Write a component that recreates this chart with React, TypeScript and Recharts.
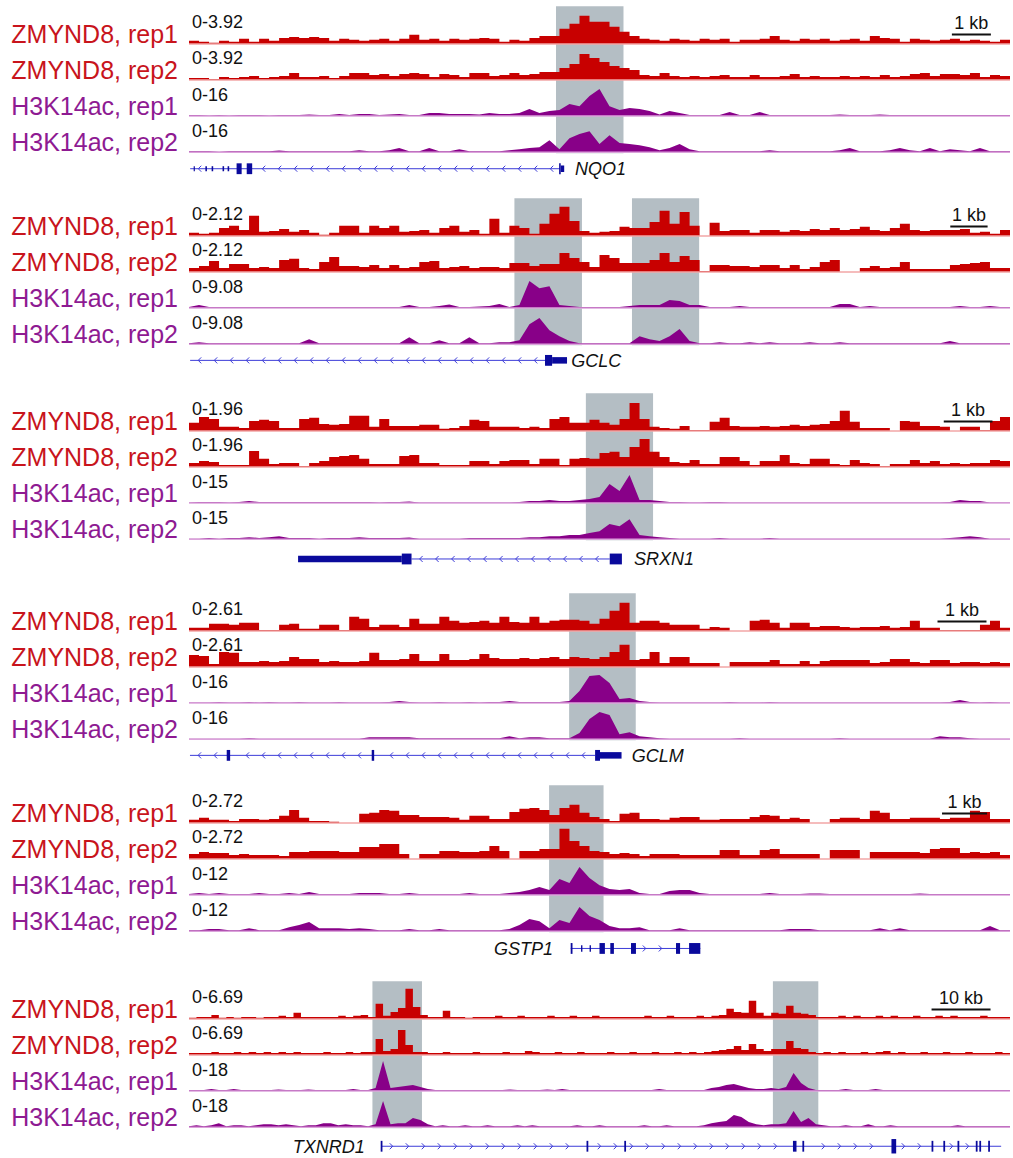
import React from 'react';
import { ComposedChart, Area, XAxis, YAxis, ReferenceArea, ReferenceLine, Scatter } from 'recharts';

const FONT = '"Liberation Sans", Arial, Helvetica, sans-serif';
const RED = '#c80000';
const PURPLE = '#880088';
const RED_BASE = '#f2a6a6';
const PURPLE_BASE = '#dba3db';
const LABEL_RED = '#c8141c';
const LABEL_PURPLE = '#8e1a92';
const HIGHLIGHT = '#b4bec4';
const EXON = '#0a0a9c';
const INTRON = '#3c3cd8';

const trackNames = ['ZMYND8, rep1', 'ZMYND8, rep2', 'H3K14ac, rep1', 'H3K14ac, rep2'];

// ---------------- NQO1 ----------------
const nqo1Span = 21.05; // kb
const nqo1Ranges = [3.92, 3.92, 16, 16];
const nqo1Zmynd8Rep1 = [
  0.33,0.22,0.11,0.33,0.22,0.55,0.22,0.55,0.33,0.65,
  0.76,0.65,0.76,0.65,0.33,0.55,0.44,0.33,0.44,0.55,
  0.33,0.55,0.98,0.44,0.55,0.33,0.55,0.44,0.55,0.65,
  0.55,0.22,0.44,0.33,0.65,0.87,0.87,1.64,2.18,3.05,
  2.4,2.4,1.85,1.31,0.87,0.55,0.44,0.33,0.55,0.44,
  0.33,0.55,0.44,0.55,0.22,0.44,0.44,0.55,0.87,0.44,
  0.33,0.55,0.44,0.55,0.33,0.44,0.55,0.33,0.87,0.65,
  0.55,0.22,0.55,0.44,0.33,0.44,0.55,0.33,0.44,0.33,
  0.22,0.44];
const nqo1Zmynd8Rep2 = [
  0.22,0.22,0.11,0.33,0.22,0.33,0.44,0.22,0.33,0.44,
  0.76,0.33,0.33,0.44,0.22,0.44,0.76,0.76,0.55,0.65,
  0.44,0.65,0.76,0.65,0.33,0.65,0.55,0.33,0.76,0.76,
  0.44,0.55,0.76,0.55,0.65,0.87,0.87,1.31,1.74,2.83,
  2.4,1.96,1.53,1.31,1.09,0.55,0.44,0.76,0.44,0.33,
  0.44,0.33,0.44,0.55,0.33,0.33,0.55,0.33,0.33,0.44,
  0.65,0.33,0.44,0.33,0.33,0.44,0.33,0.44,0.33,0.55,
  0.33,0.44,0.65,0.76,0.44,0.65,0.65,0.55,0.76,0.33,
  0.55,0.44];
const nqo1H3k14acRep1 = [
  0.44,0.44,0.22,0.44,0.22,0.44,0.44,0.44,0.22,0.44,
  0.44,0.44,0.67,0.44,0.44,0.89,0.44,0.89,0.89,0.44,
  0.67,0.89,0.44,0.44,1.33,1.33,0.89,0.89,0.89,0.67,
  1.33,0.89,0.89,1.33,3.1,1.33,2.2,2.7,5.3,4.4,
  8.9,12,4.4,2.7,3.6,3.1,2.2,0.67,2.2,1.33,
  0.44,0.44,0.44,0.44,1.78,0.44,0.44,1.78,0.44,0.44,
  0.44,0.44,0.44,0.44,0.44,0.67,0.44,0.44,0.44,0.67,
  0.44,0.44,0.44,0.44,0.44,0.44,0.44,0.44,0.44,0.44,
  0.44,0.44];
const nqo1H3k14acRep2 = [
  0.44,0.44,0.44,0.22,0.44,0.44,0.44,0.44,0.44,0.67,
  0.44,0.44,0.44,0.44,0.44,0.44,0.44,0.89,0.44,0.44,
  0.89,1.78,0.44,0.44,1.78,0.44,0.44,1.33,0.44,0.44,
  0.44,0.44,0.89,1.33,1.78,2.2,5.3,1.33,6.2,8,
  9.3,3.6,7.5,4,3.6,3.1,2.2,0.89,1.78,3.6,
  1.33,0.44,0.44,0.44,0.44,0.44,0.44,0.44,0.89,0.44,
  0.44,0.44,0.44,0.44,0.44,0.89,1.78,0.44,0.44,0.44,
  0.89,1.78,0.89,0.44,1.78,0.44,1.33,0.89,0.44,1.78,
  0.44,0.44];
const nqo1Highlights = [[9.41, 11.14]];
const nqo1ScaleBar = [19.56, 20.56];
const nqo1ScaleLabel = '1 kb';
const nqo1Gene = { name: 'NQO1', start: 0.03, end: 9.51, strand: -1, labelX: 9.9, anchor: 'start' };
const nqo1Exons = [
  [0.12, 0.15, 's'], [0.42, 0.46, 's'], [0.58, 0.62, 's'], [0.86, 0.9, 's'], [0.99, 1.03, 's'],
  [1.22, 1.35, 't'], [1.48, 1.62, 't'], [9.49, 9.53, 't'], [9.53, 9.62, 'm'],
];

// ---------------- GCLC ----------------
const gclcSpan = 22.0;
const gclcRanges = [2.12, 2.12, 9.08, 9.08];
const gclcZmynd8Rep1 = [
  0.18,0.12,0.18,0.47,0.59,0.35,1.18,0.24,0.29,0.41,
  0.24,0.35,0.18,0.06,0.18,0.59,0.59,0.18,0.59,0.47,
  0.59,0.24,0.29,0.35,0.18,0.47,0.59,0.24,0.35,0.12,
  1.0,0.18,0.59,0.47,0.12,0.71,1.3,1.71,0.88,0.29,
  0.18,0.24,0.29,0.53,0.47,0.47,0.82,1.47,0.71,1.41,
  0.59,0,0.77,0.29,0.35,0.35,0.18,0.35,0.35,0.24,
  0.35,0.29,0.41,0.35,0.47,0.35,0.41,0.53,0.35,0.29,
  0.47,0.71,0.35,0.29,0.35,0.35,0.35,0.41,0.18,0.24,
  0.12,0.35];
const gclcZmynd8Rep2 = [
  0.24,0.35,0.65,0.24,0.47,0.47,0.24,0.29,0.24,0.71,
  0.77,0.24,0.18,0.59,0.88,0.35,0.35,0.29,0.41,0.24,
  0.41,0.24,0.29,0.59,0.65,0.24,0.29,0.35,0.24,0.29,
  0.29,0.24,0.53,0.53,0.35,0.47,0.47,1.12,0.82,0.59,
  0.29,1.0,0.82,0.53,0.53,0.53,0.71,1.12,0.59,0.94,
  0.71,0.06,0.41,0.41,0.35,0.35,0.29,0.41,0.41,0.24,
  0.41,0.18,0.29,0.59,0.71,0,0,0.24,0.35,0.24,
  0.29,0.59,0.18,0.18,0.18,0.18,0.41,0.47,0.53,0.59,
  0.24,0.24];
const gclcH3k14acRep1 = [
  0.25,0.76,0.25,0.25,0.25,0.25,0.25,0.25,0.25,0.25,
  0.25,0.25,0.25,0.25,0.25,0.25,0.25,0.25,0.25,0.25,
  0.25,0.25,0.76,0.25,0.25,0.5,0.88,0.25,0.25,0.38,
  0.5,1.0,0.25,0.76,6.8,5.0,5.5,0.76,0.5,0.25,
  0.25,0.25,0.25,0.25,0.5,0.76,0.76,0.76,2.0,1.76,
  0.76,0.76,0.25,0.25,0.25,0.5,0.25,0.25,0.25,0.25,
  0.25,0.25,0.25,0.25,0.25,1.0,1.0,0.25,0.5,0.25,
  0.25,0.25,0.25,0.25,0.25,0.25,0.25,0.5,0.25,0.25,
  0.5,0.25];
const gclcH3k14acRep2 = [
  0.25,0.5,0.25,0.25,0.25,0.25,0.25,0.25,0.25,0.25,
  0.25,0.25,1.26,0.25,0.25,0.25,0.25,0.25,0.25,0.25,
  0.25,0.25,1.76,0.25,0.25,1.0,0.25,0.25,1.76,0.25,
  0.25,0.5,0.5,1.0,5.0,6.6,3.5,2.0,0.76,0.25,
  0.25,0.25,0.25,0.25,0.25,2.0,1.26,0.76,2.0,3.8,
  0.76,0.25,0.25,0.5,0.25,0.25,0.5,0.25,0.5,0.25,
  0.25,0.25,0.5,0.25,0.25,0.5,0.25,0.25,0.25,0.25,
  0.25,0.25,0.25,0.25,0.25,0.25,0.76,0.25,0.25,0.25,
  0.25,0.25];
const gclcHighlights = [[8.72, 10.53], [11.87, 13.67]];
const gclcScaleBar = [20.4, 21.4];
const gclcScaleLabel = '1 kb';
const gclcGene = { name: 'GCLC', start: 0.03, end: 9.54, strand: -1, labelX: 10.24, anchor: 'start' };
const gclcExons = [[9.54, 9.73, 't'], [9.73, 10.13, 'm']];

// ---------------- SRXN1 ----------------
const srxn1Span = 16.86;
const srxn1Ranges = [1.96, 1.96, 15, 15];
const srxn1Zmynd8Rep1 = [
  0.44,0.76,0.65,0.22,0.22,0.16,0.54,0.6,0.54,0.16,
  0.16,0.65,0.71,0.38,0.33,0.38,0.82,0.82,0.22,0.65,
  0.27,0.27,0.27,0.33,0.33,0.11,0.16,0.27,0.6,0.54,
  0.22,0.22,0.22,0.16,0.22,0.16,0.65,0.76,0.44,0.44,
  0.6,0.44,0.33,0.65,1.52,0.65,0.22,0.16,0.11,0.27,
  0.05,0.05,0.49,0.71,0.27,0.22,0.22,0.27,0.22,0.27,
  0.33,0.27,0.33,0.38,0.54,1.09,0.49,0.16,0.16,0.16,
  0,0.54,0.49,0.27,0.27,0.22,0,0.22,0.22,0.05,
  0.54,0.76];
const srxn1Zmynd8Rep2 = [
  0.22,0.33,0.27,0.11,0.11,0.11,0.87,0.44,0.16,0.22,
  0.22,0.05,0.22,0.33,0.54,0.6,0.65,0.44,0.16,0.16,
  0.16,0.6,0.65,0.22,0.22,0.11,0.11,0.11,0.33,0.33,
  0.16,0.33,0.38,0.38,0.16,0.44,0.44,0.11,0.44,0.49,
  0.44,0.76,0.82,0.54,1.09,1.52,0.82,0.54,0.27,0.22,
  0.38,0.16,0.16,0.54,0.54,0.33,0.11,0.33,0.33,0.65,
  0.22,0.16,0.44,0.44,0.16,0.11,0.38,0.22,0.16,0.05,
  0.16,0.16,0.38,0.22,0.33,0.16,0.22,0.16,0.22,0.22,
  0.38,0.33];
const srxn1H3k14acRep1 = [
  0.21,0.42,0.42,0.42,0.21,0.42,0.83,0.42,0.42,0.42,
  0.42,0.42,0.42,0.42,0.42,0.42,0.42,0.42,0.42,0.21,
  0.42,0.42,0.63,0.21,0.21,0.21,0.21,0.21,0.21,0.21,
  0.21,0.21,0.21,0.42,0.83,0.83,1.25,0.83,0.83,1.25,
  1.67,2.5,7.9,5.0,11.7,1.25,1.25,0.83,0.42,0.42,
  0.21,0.21,0.42,0.42,0.21,0.21,0.21,0.21,0.21,0.21,
  0.21,0.21,0.21,0.21,0.21,0.21,0.21,0.21,0.21,0.21,
  0.21,0.21,0.21,0.21,0.21,0.21,0.42,1.25,0.83,0.83,
  0.21,0.21];
const srxn1H3k14acRep2 = [
  0.21,0.21,0.42,0.21,0.42,0.42,0.83,0.42,0.83,1.25,
  0.42,0.42,0.42,0.21,0.42,0.42,0.42,0.83,0.42,0.42,
  0.42,0.42,0.63,0.21,0.21,0.21,0.21,0.21,0.42,0.42,
  0.42,0.42,0.42,0.42,0.83,0.83,1.25,1.25,1.67,1.67,
  2.5,3.3,6.3,5.4,8.3,1.67,1.25,0.83,0.42,0.21,
  0.21,0.21,0.21,0.42,0.21,0.21,0.21,0.21,0.42,0.21,
  0.21,0.21,0.21,0.21,0.21,0.21,0.21,0.21,0.21,0.21,
  0.21,0.21,0.21,0.21,0.21,0.21,0.42,0.83,1.25,0.83,
  0.21,0.21];
const srxn1Highlights = [[8.15, 9.53]];
const srxn1ScaleBar = [15.5, 16.5];
const srxn1ScaleLabel = '1 kb';
const srxn1Gene = { name: 'SRXN1', start: 4.57, end: 8.64, strand: -1, labelX: 9.14, anchor: 'start' };
const srxn1Exons = [[2.24, 4.37, 'm'], [4.37, 4.57, 't'], [8.64, 8.89, 't']];

// ---------------- GCLM ----------------
const gclmSpan = 16.76;
const gclmRanges = [2.61, 2.61, 16, 16];
const gclmZmynd8Rep1 = [
  0.22,0.22,0.51,0.51,0.44,0.58,0.58,0.07,0.07,0.44,
  0.51,0.15,0.15,0.44,0.44,0.07,1.02,0.87,0.29,0.44,
  0.44,0.29,0.87,0.51,0.51,1.02,0.73,0.58,0.65,0.73,
  0.58,1.02,0.65,0.58,1.02,0.58,0.73,0.8,0.8,0.73,
  0.51,0.87,1.45,2.03,0.58,0.73,0.73,0.58,0.44,0.44,
  0.44,0.15,0.29,0.22,0,0,0.73,0.8,0.58,0.22,
  0.58,0.58,0.29,0.36,0.36,0.29,0.22,0.29,0.29,0.36,
  0.22,0.29,0.73,0.22,0.22,0.07,0.07,0.07,0.07,0.44,
  0.73,0.22];
const gclmZmynd8Rep2 = [
  0.87,0.8,0.22,1.09,1.02,0.36,0.36,0.44,0.36,0.44,
  0.73,0.58,0.58,0.36,0.44,0.36,0.36,0.44,1.02,0.51,
  0.51,0.58,0.94,0.44,0.44,0.94,0.51,0.51,0.58,0.94,
  0.65,0.58,0.58,0.65,0.58,0.65,0.73,0.58,0.73,0.65,
  0.58,0.73,1.09,1.6,0.51,0.58,1.09,0.29,0.73,0.73,
  0.29,0.29,0.29,0,0.36,0.36,0.36,0.36,0.51,0.22,
  0.22,0.44,0.22,0.44,0.51,0.51,0.51,0.51,0.29,0.36,
  0.58,0.58,0.36,0.29,0.51,0.51,0.29,0.36,0.36,0.29,
  0.36,0.29];
const gclmH3k14acRep1 = [
  0.22,0.22,0.22,0.44,0.22,0.22,0.44,0.22,0.44,0.22,
  0.22,0.44,0.22,0.22,0.22,0.44,0.22,0.22,0.22,0.22,
  0.44,0.89,0.44,0.22,0.22,0.44,0.22,0.22,0.44,0.22,
  0.44,0.44,0.89,0.44,0.44,0.44,0.44,0.44,0.89,5.3,
  12,12.4,8.9,1.78,2.2,0.89,0.44,0.22,0.22,0.22,
  0.22,0.22,0.22,0.22,0.44,0.22,0.22,0.22,0.44,0.22,
  0.22,0.22,0.22,0.22,0.22,0.22,0.22,0.22,0.22,0.22,
  0.22,0.22,0.22,0.22,0.22,0.22,0.44,1.33,0.44,0.22,
  0.44,0.22];
const gclmH3k14acRep2 = [
  0.22,0.22,0.22,0.22,0.22,0.22,0.44,0.22,0.22,0.22,
  0.22,0.22,0.22,0.22,0.22,0.22,0.22,0.22,0.89,0.89,
  0.89,0.89,0.89,0.44,0.44,0.44,0.44,0.44,0.44,0.44,
  0.44,0.44,1.33,0.44,0.89,0.89,0.44,0.44,0.44,2.7,
  8.9,12,10.7,2.2,3.1,1.33,0.89,0.44,0.22,0.22,
  0.22,0.22,0.22,0.22,0.22,0.44,0.22,0.22,0.22,0.22,
  0.22,0.22,0.22,0.22,0.22,0.44,0.22,0.22,0.22,0.22,
  0.22,0.22,0.22,0.22,0.22,1.33,0.89,0.89,0.44,0.22,
  0.22,0.22];
const gclmHighlights = [[7.76, 9.12]];
const gclmScaleBar = [15.28, 16.28];
const gclmScaleLabel = '1 kb';
const gclmGene = { name: 'GCLM', start: 0.02, end: 8.29, strand: -1, labelX: 9.04, anchor: 'start' };
const gclmExons = [[0.77, 0.84, 't'], [3.73, 3.78, 't'], [8.29, 8.39, 't'], [8.39, 8.83, 'm']];

// ---------------- GSTP1 ----------------
const gstp1Span = 18.24;
const gstp1Ranges = [2.72, 2.72, 12, 12];
const gstp1Zmynd8Rep1 = [
  0.23,0.38,0.23,0.23,0.15,0.3,0.3,0.23,0.3,0.53,
  0.98,0.38,0.15,0.15,0.08,0,0,0.68,0.76,0.98,
  0.91,0.6,0.6,0.45,0.45,0.45,0.38,0.23,0.53,0.53,
  0.3,0.3,0.83,1.06,1.13,0.98,0.6,1.13,1.36,0.76,
  0.45,0.3,0.15,0.68,0.76,0.3,0.3,0.23,0.38,0.45,
  0.45,0.23,0.23,0.3,0.3,0.3,0.45,0.6,0.53,0.3,
  0.38,0.3,0,0,0.3,0.38,0.38,0.3,0.91,0.76,
  0.3,0.3,0.38,0.38,0.38,0.3,0.38,0.38,0.91,0.83,
  0.3,0.3];
const gstp1Zmynd8Rep2 = [
  0.38,0.53,0.45,0.45,0.3,0.38,0.3,0.3,0.3,0.23,
  0.53,0.53,0.6,0.6,0.6,0.53,0.53,0.91,0.91,1.13,
  1.13,0.38,0,0.38,0.38,0.6,0.6,0.53,0.53,0.6,
  0.98,0.6,0,0.6,0.6,0.76,0.76,2.27,1.36,0.98,
  0.6,0.53,0.38,0.45,0.38,0.23,0.38,0.38,0.38,0.3,
  0.3,0.3,0.3,0.68,0.68,0.3,0.3,0.68,0.76,0.38,
  0.38,0.38,0.38,0,0.68,0.68,0.68,0,0.53,0.53,
  0.53,0.53,0.53,0.45,0.76,0.83,0.83,0.45,0.53,0.45,
  0.53,0.3];
const gstp1H3k14acRep1 = [
  0.33,0.67,0.33,0.67,0.33,0.33,0.33,0.67,0.33,0.33,
  0.67,0.33,1,0.33,0.33,0.33,0.33,0.67,0.67,0.67,
  0.33,0.33,0.67,0.33,0.33,0.33,0.33,0.33,0.67,0.33,
  0.33,0.33,0.67,1,1.67,2.67,1.67,5.3,4,9.3,
  5.7,3.3,2,1.67,2,0.67,0.33,0.33,1.33,1.67,
  1.67,0.67,0.33,0.33,0.33,0.33,0.33,0.33,0.67,0.33,
  0.33,0.33,0.5,0.5,0.33,0.33,0.33,0.33,0.33,0.33,
  0.33,0.33,0.33,0.5,0.33,0.33,0.33,0.33,0.33,0.33,
  0.33,0.33];
const gstp1H3k14acRep2 = [
  0.33,0.33,0.67,0.67,0.33,0.33,1,0.33,0.33,0.33,
  1.33,2,3,1,1,1,0.67,1,0.67,0.33,
  0.33,0.33,0.67,0.33,0.33,0.67,0.33,0.33,0.33,0.33,
  0.33,0.33,0.67,2,4,3.3,1,3.7,2.67,8,
  5,3.7,1.67,1,1,1.33,0.33,0.33,0.33,1,
  0.33,0.33,0.33,0.33,0.33,0.33,0.33,0.33,0.33,0.33,
  0.67,0.67,0.67,0.33,0.33,0.33,0.33,0.33,0.33,1,
  0.33,1,0.33,0.33,0.33,0.33,0.33,0.33,0.33,0.33,
  1.67,0.33];
const gstp1Highlights = [[8.0, 9.21]];
const gstp1ScaleBar = [16.73, 17.73];
const gstp1ScaleLabel = '1 kb';
const gstp1Gene = { name: 'GSTP1', start: 8.48, end: 11.36, strand: 1, labelX: 8.09, anchor: 'end' };
const gstp1Exons = [
  [8.48, 8.52, 't'], [8.71, 8.74, 'm'], [8.9, 8.93, 'm'], [9.12, 9.24, 't'], [9.36, 9.44, 't'],
  [9.82, 9.93, 't'], [10.82, 10.91, 't'], [11.11, 11.36, 't'],
];

// ---------------- TXNRD1 ----------------
const txnrd1Span = 139.2;
const txnrd1Ranges = [6.69, 6.69, 18, 18];
const txnrd1Zmynd8Rep1 = [
  0.19,0.37,0.37,0.74,0.19,0.37,0.19,0.37,0.37,0.19,
  0.37,0.37,0.56,0.37,1.12,0.37,0.37,0.37,0.37,0.37,
  0.56,0.37,0.56,0.74,0.37,2.79,0.56,1.3,2.0,5.58,
  2.2,0.74,0.37,0.37,1.49,0.37,0.37,0.19,0.37,0.37,
  0.37,0.56,0.37,0.37,0.56,0.37,0.37,0.37,0.56,0.37,
  0.37,0.56,0.37,0.37,0.56,0.37,0.37,0.37,0.37,0.37,
  0.37,0.56,0.37,0.37,0.56,0.37,0.37,0.37,0.56,0.37,
  0.56,0.74,1.86,1.3,1.12,3.35,1.12,0.56,1.12,0.93,
  2.42,1.12,0.93,0.74,0.37,0.37,0.37,0.56,0.37,0.56,
  0.37,0.37,0.56,0.37,0.56,0.37,0.37,0.56,0.37,0.37,
  0.56,0.37,0.56,0.37,0.37,0.37,0.56,0.37,0.37,0.37];
const txnrd1Zmynd8Rep2 = [
  0.37,0.37,0.37,0.56,0.37,0.37,0.56,0.37,0.56,0.37,
  0.56,0.37,0.56,0.37,0.56,0.37,0.37,0.37,0.56,0.37,
  0.37,0.56,0.37,0.56,0.56,2.98,0.74,1.12,4.65,1.86,
  0.56,0.56,0.37,0.37,0.56,0.37,0.37,0.37,0.56,0.37,
  0.37,0.37,0.56,0.37,0.37,0.74,0.56,0.37,0.37,0.56,
  0.37,0.37,0.56,0.37,0.37,0.37,0.56,0.37,0.37,0.56,
  0.37,0.37,0.56,0.37,0.37,0.56,0.37,0.56,0.37,0.56,
  0.74,0.93,1.12,1.67,0.93,2.05,1.12,0.74,1.12,1.12,
  2.6,1.3,1.12,0.56,0.37,0.56,0.37,0.56,0.37,0.37,
  0.56,0.37,0.56,0.74,0.37,0.56,0.37,0.37,0.56,0.37,
  0.37,0.56,0.37,0.37,0.56,0.37,0.37,0.37,0.56,0.37];
const txnrd1H3k14acRep1 = [
  0.5,0.5,0.5,1,0.5,0.5,1,0.5,0.5,0.5,
  0.5,0.5,0.75,0.5,0.5,0.5,0.75,0.5,0.5,0.5,
  0.5,0.5,1,0.5,0.5,1.5,15,1.5,2,2.5,
  3,2,1,0.5,0.5,0.5,0.5,0.5,0.5,0.5,
  0.5,0.5,0.5,0.75,0.5,0.5,0.5,0.5,0.75,0.5,
  1,0.5,0.5,0.5,0.5,0.5,0.5,0.5,0.5,0.5,
  0.5,0.5,0.5,1,0.5,0.5,0.5,0.5,0.5,0.5,
  1.5,2,3,3.5,2.5,1.5,1,1,1.5,1,
  2,9,4,1.5,0.5,0.5,0.5,0.5,1,0.5,
  0.5,0.5,1,0.5,0.5,0.5,0.5,0.5,0.5,0.5,
  0.5,0.5,0.5,0.5,0.5,0.5,0.5,0.5,0.5,0.5];
const txnrd1H3k14acRep2 = [
  0.5,1,0.5,1,2,0.5,1,1,0.5,1,
  1.5,1.5,1,1.5,1,0.5,1,1,2,2,
  1,1.5,1,1,0.5,1.5,13,1.5,2,2,
  4.5,3.5,1.5,0.5,1,0.5,0.5,1,0.5,0.5,
  1,0.5,0.5,0.5,1,0.5,1,0.5,0.5,0.5,
  0.5,0.5,1,0.5,0.5,1,0.5,0.5,0.5,0.5,
  0.5,1,0.5,0.5,1,0.5,0.5,0.5,0.5,1,
  2,2.5,3,6,5,2.5,1.5,1,1.5,1.5,
  2,8,2.5,4.5,1.5,1,0.5,0.5,1,0.5,
  0.5,1.5,0.5,0.5,1,0.5,0.5,0.5,0.5,0.5,
  0.5,0.5,0.5,1,0.5,0.5,0.5,0.5,0.5,0.5];
const txnrd1Highlights = [[31.1, 39.5], [99.0, 106.7]];
const txnrd1ScaleBar = [125.9, 135.9];
const txnrd1ScaleLabel = '10 kb';
const txnrd1Gene = { name: 'TXNRD1', start: 32.66, end: 137.7, strand: 1, labelX: 29.8, anchor: 'end' };
const txnrd1Exons = [
  [32.5, 32.8, 't'], [67.4, 67.7, 't'], [73.8, 74.1, 't'], [102.4, 103.0, 't'], [104.0, 104.3, 't'],
  [119.1, 119.9, 'b'], [125.9, 126.2, 't'], [127.9, 128.2, 't'], [130.3, 130.6, 't'],
  [133.4, 133.7, 't'], [134.0, 134.3, 't'], [135.5, 135.8, 't'],
];

const panels = [
  { span: nqo1Span, ranges: nqo1Ranges, tracks: [nqo1Zmynd8Rep1, nqo1Zmynd8Rep2, nqo1H3k14acRep1, nqo1H3k14acRep2], highlights: nqo1Highlights, scaleBar: nqo1ScaleBar, scaleLabel: nqo1ScaleLabel, gene: nqo1Gene, exons: nqo1Exons },
  { span: gclcSpan, ranges: gclcRanges, tracks: [gclcZmynd8Rep1, gclcZmynd8Rep2, gclcH3k14acRep1, gclcH3k14acRep2], highlights: gclcHighlights, scaleBar: gclcScaleBar, scaleLabel: gclcScaleLabel, gene: gclcGene, exons: gclcExons },
  { span: srxn1Span, ranges: srxn1Ranges, tracks: [srxn1Zmynd8Rep1, srxn1Zmynd8Rep2, srxn1H3k14acRep1, srxn1H3k14acRep2], highlights: srxn1Highlights, scaleBar: srxn1ScaleBar, scaleLabel: srxn1ScaleLabel, gene: srxn1Gene, exons: srxn1Exons },
  { span: gclmSpan, ranges: gclmRanges, tracks: [gclmZmynd8Rep1, gclmZmynd8Rep2, gclmH3k14acRep1, gclmH3k14acRep2], highlights: gclmHighlights, scaleBar: gclmScaleBar, scaleLabel: gclmScaleLabel, gene: gclmGene, exons: gclmExons },
  { span: gstp1Span, ranges: gstp1Ranges, tracks: [gstp1Zmynd8Rep1, gstp1Zmynd8Rep2, gstp1H3k14acRep1, gstp1H3k14acRep2], highlights: gstp1Highlights, scaleBar: gstp1ScaleBar, scaleLabel: gstp1ScaleLabel, gene: gstp1Gene, exons: gstp1Exons },
  { span: txnrd1Span, ranges: txnrd1Ranges, tracks: [txnrd1Zmynd8Rep1, txnrd1Zmynd8Rep2, txnrd1H3k14acRep1, txnrd1H3k14acRep2], highlights: txnrd1Highlights, scaleBar: txnrd1ScaleBar, scaleLabel: txnrd1ScaleLabel, gene: txnrd1Gene, exons: txnrd1Exons },
];

// layout (pixels / track units), not data
const PANEL_TOPS = [6, 198, 393, 593, 785, 981];
const GENE_Y = [-0.46, -0.45, -0.55, -0.45, -0.48, -0.53];
const CHART_W = 1013;
const CHART_H = 175;
const Y_DOMAIN: [number, number] = [-0.8, 4.05];
const EXON_HALF: Record<string, number> = { t: 0.15, m: 0.09, s: 0.07, b: 0.2 };

function Panel({ p, idx }: { p: any; idx: number }) {
  const N = p.tracks[0].length;
  const rows: any[] = [];
  for (let i = 0; i <= N; i++) {
    const j = Math.min(i, N - 1);
    const r: any = { x: (i * p.span) / N };
    p.tracks.forEach((t: number[], k: number) => {
      r['t' + k] = t[j];
    });
    rows.push(r);
  }
  const gy = GENE_Y[idx];
  const ticks: number[] = [];
  for (let k = 0; k < 4; k++) {
    const base = 3 - k;
    ticks.push(base + 0.27, base + 0.61);
  }
  ticks.sort((a, b) => a - b);

  const renderTick = (props: any) => {
    const { x, y, payload } = props;
    const v = payload.value;
    const fl = Math.floor(v + 1e-6);
    const k = 3 - fl;
    const frac = v - fl;
    if (frac < 0.45) {
      return (
        <text x={x} y={y} dy="0.36em" textAnchor="end" fontSize={25} fontFamily={FONT} fill={k < 2 ? LABEL_RED : LABEL_PURPLE}>
          {trackNames[k]}
        </text>
      );
    }
    return (
      <text x={x + 14} y={y} dy="0.36em" textAnchor="start" fontSize={18} fontFamily={FONT} fill="#111">
        {`0-${p.ranges[k]}`}
      </text>
    );
  };

  const g = p.gene;
  const chevrons: any[] = [];
  const gap = (p.span * 16) / 821;
  for (let x = g.start + gap * 0.6; x < g.end - gap * 0.3; x += gap) {
    if (p.exons.some((e: any) => x > e[0] - gap * 0.3 && x < e[1] + gap * 0.3)) continue;
    chevrons.push({ x, y: gy });
  }
  const chevronShape = (props: any) => {
    const { cx, cy } = props;
    const d = g.strand < 0
      ? `M${cx + 1.5},${cy - 3}L${cx - 1.5},${cy}L${cx + 1.5},${cy + 3}`
      : `M${cx - 1.5},${cy - 3}L${cx + 1.5},${cy}L${cx - 1.5},${cy + 3}`;
    return <path d={d} stroke={INTRON} strokeWidth={1} fill="none" />;
  };
  const labelShape = (props: any) => (
    <text x={props.cx} y={props.cy} dy="0.36em" textAnchor={g.anchor} fontSize={18} fontStyle="italic" fontFamily={FONT} fill="#111">
      {g.name}
    </text>
  );

  return (
    <div style={{ position: 'absolute', left: 0, top: PANEL_TOPS[idx], width: CHART_W, height: CHART_H }}>
      <ComposedChart width={CHART_W} height={CHART_H} data={rows} margin={{ top: 0, right: 3, bottom: 0, left: 0 }}>
        <XAxis dataKey="x" type="number" domain={[0, p.span]} hide allowDataOverflow />
        <YAxis
          yAxisId="main"
          type="number"
          domain={Y_DOMAIN}
          ticks={ticks}
          interval={0}
          tick={renderTick}
          tickLine={false}
          axisLine={false}
          tickSize={0}
          tickMargin={11}
          width={189}
          allowDataOverflow
        />
        {p.highlights.map((h: number[], i: number) => (
          <ReferenceArea key={'h' + i} yAxisId="main" x1={h[0]} x2={h[1]} y1={-0.03} y2={4.04} fill={HIGHLIGHT} fillOpacity={1} stroke="none" zIndex={-60} />
        ))}
        {p.tracks.map((_: any, k: number) => {
          const base = 3 - k;
          const rng = p.ranges[k];
          const key = 't' + k;
          return (
            <Area
              key={key}
              yAxisId="main"
              dataKey={(d: any) => [base, base + d[key] / rng]}
              type={k < 2 ? 'stepAfter' : 'linear'}
              fill={k < 2 ? RED : PURPLE}
              fillOpacity={1}
              stroke="none"
              dot={false}
              activeDot={false}
              isAnimationActive={false}
            />
          );
        })}
        {[0, 1, 2, 3].map((k) => (
          <ReferenceLine key={'b' + k} yAxisId="main" y={3 - k} stroke={k < 2 ? RED_BASE : PURPLE_BASE} strokeWidth={1.5} />
        ))}
        <ReferenceLine
          yAxisId="main"
          segment={[{ x: p.scaleBar[0], y: 3.26 }, { x: p.scaleBar[1], y: 3.26 }]}
          stroke="#111"
          strokeWidth={2}
          label={{ value: p.scaleLabel, position: 'top', offset: 6, fill: '#111', fontSize: 18, fontFamily: FONT }}
        />
        <ReferenceLine yAxisId="main" segment={[{ x: g.start, y: gy }, { x: g.end, y: gy }]} stroke={INTRON} strokeWidth={1} />
        {p.exons.map((e: any, i: number) => (
          <ReferenceArea key={'e' + i} yAxisId="main" x1={e[0]} x2={e[1]} y1={gy - EXON_HALF[e[2]]} y2={gy + EXON_HALF[e[2]]} fill={EXON} fillOpacity={1} stroke="none" zIndex={450} />
        ))}
        <Scatter yAxisId="main" data={chevrons} dataKey="y" shape={chevronShape} isAnimationActive={false} />
        <Scatter yAxisId="main" data={[{ x: g.labelX, y: gy }]} dataKey="y" shape={labelShape} isAnimationActive={false} />
      </ComposedChart>
    </div>
  );
}

export default function App() {
  return (
    <div style={{ position: 'absolute', left: 0, top: 0, width: 1013, height: 1158, background: '#fff', overflow: 'hidden' }}>
      {panels.map((p, i) => (
        <Panel key={i} p={p} idx={i} />
      ))}
    </div>
  );
}
